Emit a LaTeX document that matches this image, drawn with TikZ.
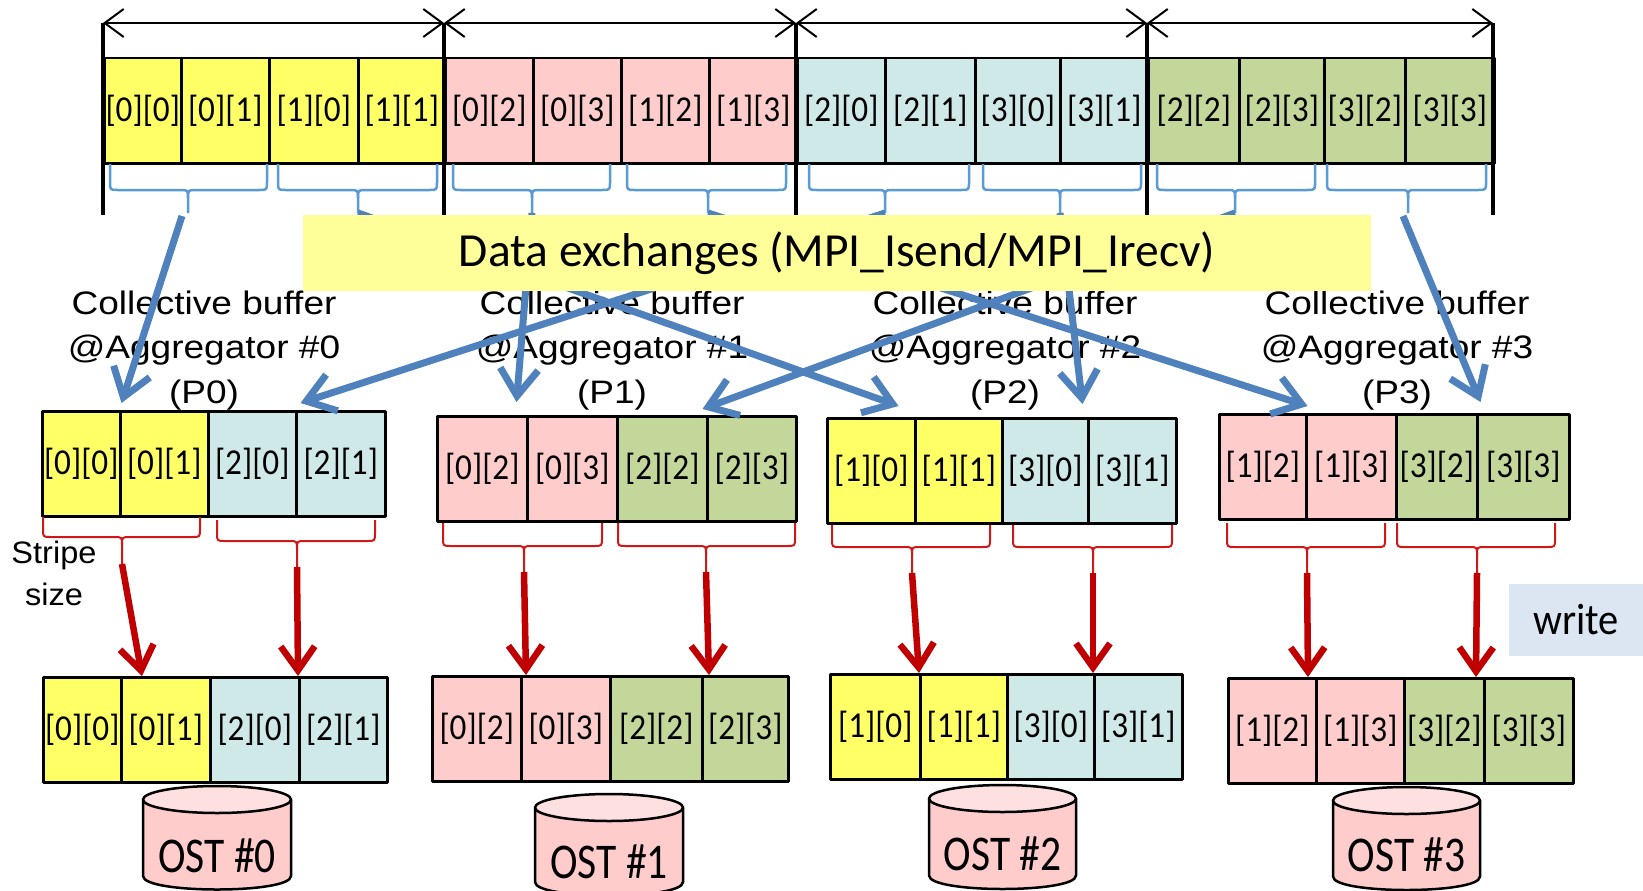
\documentclass[tikz,border=0pt]{standalone}
\usepackage{fontspec}
\usetikzlibrary{arrows.meta}

\newfontfamily\calfont{Carlito}
\newfontfamily\cellfont[FakeStretch=0.91]{Carlito}
\newfontfamily\ostfont[FakeStretch=0.83]{Carlito}
\newfontfamily\writefont[FakeStretch=0.92]{Carlito}
\newfontfamily\labfont[FakeStretch=1.14]{Liberation Sans}
\newfontfamily\stripefont[FakeStretch=1.05]{Liberation Sans}

\definecolor{cY}{HTML}{FFFF66}
\definecolor{cP}{HTML}{FFCCCC}
\definecolor{cC}{HTML}{CFE8E8}
\definecolor{cG}{HTML}{C4D79B}
\definecolor{xchgbg}{HTML}{FFFF99}
\definecolor{writebg}{HTML}{DCE6F2}
\definecolor{flowblue}{HTML}{4F81BD}
\definecolor{braceblue}{HTML}{5B9BD5}
\definecolor{writered}{HTML}{C00000}
\definecolor{bracered}{HTML}{D01818}
\definecolor{drumtop}{HTML}{FFE0E0}

% curly brace: name, style, left x, right x, centre x, top y, bar y, tip y
\newcommand\curlybrace[8]{%
  \draw[#2] (#3,#6) -- (#3,#7-8) .. controls (#3,#7) .. (#3+8,#7) -- (#5-8,#7)
        .. controls (#5,#7) .. (#5,#7+8) -- (#5,#8);
  \draw[#2] (#4,#6) -- (#4,#7-8) .. controls (#4,#7) .. (#4-8,#7) -- (#5+8,#7)
        .. controls (#5,#7) .. (#5,#7+8);
  \coordinate (#1) at (#5,#8);
}

% storage drum: name, centre x, x radius, top ellipse y, bottom y, label y, label
\newcommand\ostdrum[7]{%
  \filldraw[drum, fill=cP] (#2-#3,#4) -- (#2-#3,#5)
     .. controls (#2-#3,#5+18) and (#2+#3,#5+18) .. (#2+#3,#5) -- (#2+#3,#4) -- cycle;
  \filldraw[drum, fill=drumtop] (#2,#4) ellipse [x radius=#3, y radius=13.5];
  \node[ostlabel] (#1) at (#2,#6) {#7};
}

\begin{document}
\begin{tikzpicture}[x=1pt, y=-1pt, line join=round,
  cellbox/.style={draw=black, line width=2.5pt, inner sep=0pt, anchor=north west,
    minimum height=105, font=\cellfont\fontsize{36.5}{40}\selectfont},
  dimline/.style={line width=2pt,
    {Straight Barb[length=19pt,width=28pt]}-{Straight Barb[length=19pt,width=28pt]}},
  groupbar/.style={line width=3.5pt},
  braceB/.style={draw=braceblue, line width=2.5pt},
  braceR/.style={draw=bracered, line width=2pt},
  flow/.style={draw=flowblue, line width=7pt, -{Straight Barb[length=27pt,width=38pt]}},
  writeflow/.style={draw=writered, line width=6.5pt, -{Straight Barb[length=24pt,width=34pt]}},
  aggrlabel/.style={inner sep=0pt, anchor=north, align=center,
    font=\labfont\fontsize{32.5}{44.5}\selectfont},
  drum/.style={draw=black, line width=2.5pt},
  ostlabel/.style={inner sep=0pt, font=\ostfont\fontsize{50}{56}\selectfont},
]
\useasboundingbox (0,0) rectangle (1643,891);

% ---- file layout: the 4x4 array in row-major order -------------------
\foreach \n/\xl/\xr/\c/\t in {
  t00/103/180/cY/{[0][0]}, t01/180/268/cY/{[0][1]}, t10/268/357/cY/{[1][0]}, t11/357/444/cY/{[1][1]},
  t02/444/532/cP/{[0][2]}, t03/532/620/cP/{[0][3]}, t12/620/708/cP/{[1][2]}, t13/708/796/cP/{[1][3]},
  t20/796/884/cC/{[2][0]}, t21/884/974/cC/{[2][1]}, t30/974/1059/cC/{[3][0]}, t31/1059/1147/cC/{[3][1]},
  t22/1147/1238/cG/{[2][2]}, t23/1238/1323/cG/{[2][3]}, t32/1323/1404/cG/{[3][2]}, t33/1404/1493/cG/{[3][3]}}
  {\node[cellbox, fill=\c, minimum width=\xr-\xl] (\n) at (\xl,57) {\t};}

% process extents with dimension arrows
\foreach \i/\x in {0/103, 1/444, 2/796, 3/1147, 4/1493} {
  \coordinate (g\i) at (\x,23);
  \coordinate (gb\i) at (\x,215);
}
\foreach \i in {0,...,4} \draw[groupbar] (g\i) -- (gb\i);
\draw[dimline] (g0) -- (g1);
\draw[dimline] (g1) -- (g2);
\draw[dimline] (g2) -- (g3);
\draw[dimline] (g3) -- (g4);

% blue braces under pairs of blocks
\foreach \i/\xl/\xr/\xc in {0/110/267/188, 1/278/437/358, 2/453/610/532, 3/627/786/708,
                            4/809/969/885, 5/983/1141/1060, 6/1157/1315/1235, 7/1327/1486/1408}
  {\curlybrace{bt\i}{braceB}{\xl}{\xr}{\xc}{164}{190}{213}}

% ---- aggregator labels ------------------------------------------------
\node[aggrlabel] (lab0) at (204,290.5)  {Collective buffer\\@Aggregator \#0\\(P0)};
\node[aggrlabel] (lab1) at (612,290.5)  {Collective buffer\\@Aggregator \#1\\(P1)};
\node[aggrlabel] (lab2) at (1005,290.5) {Collective buffer\\@Aggregator \#2\\(P2)};
\node[aggrlabel] (lab3) at (1397,290.5) {Collective buffer\\@Aggregator \#3\\(P3)};

% ---- collective buffers -----------------------------------------------
\foreach \n/\xl/\xr/\yt/\c/\t in {
  m0a/41/119/410/cY/{[0][0]}, m0b/119/207/410/cY/{[0][1]}, m0c/207/295/410/cC/{[2][0]}, m0d/295/384/410/cC/{[2][1]},
  m1a/436/526/415/cP/{[0][2]}, m1b/526/616/415/cP/{[0][3]}, m1c/616/706/415/cG/{[2][2]}, m1d/706/795/415/cG/{[2][3]},
  m2a/826/914/417/cY/{[1][0]}, m2b/914/1001/417/cY/{[1][1]}, m2c/1001/1087/417/cC/{[3][0]}, m2d/1087/1175/417/cC/{[3][1]},
  m3a/1218/1305/413/cP/{[1][2]}, m3b/1305/1395/413/cP/{[1][3]}, m3c/1395/1476/413/cG/{[3][2]}, m3d/1476/1568/413/cG/{[3][3]}}
  {\node[cellbox, fill=\c, minimum width=\xr-\xl] (\n) at (\xl,\yt) {\t};}

% ---- data exchanges ---------------------------------------------------
\coordinate (sA0) at (182,216);
\coordinate (sA7) at (1403,216);
\draw[flow] (sA0) -- ([yshift=7pt]m0a.north east);
\draw[flow] (bt1) -- ([xshift=-18pt,yshift=11pt]m2a.north east);
\draw[flow] (bt2) -- ([xshift=-12pt,yshift=13pt]m1a.north east);
\draw[flow] (bt3) -- ([yshift=7pt]m3a.north east);
\draw[flow] (bt4) -- ([xshift=3pt,yshift=7pt]m0c.north east);
\draw[flow] (bt5) -- ([xshift=-7pt,yshift=13pt]m2c.north east);
\draw[flow] (bt6) -- ([xshift=-6pt,yshift=6pt]m1c.north east);
\draw[flow] (sA7) -- ([xshift=2pt,yshift=11pt]m3c.north east);

\node[fill=xchgbg, minimum width=1068, minimum height=76, inner sep=0pt,
      font=\calfont\fontsize{47.5}{52}\selectfont] (xchg) at (837,253)
      {Data exchanges (MPI\_Isend/MPI\_Irecv)};

% ---- stripes written to the OSTs --------------------------------------
\foreach \n/\xl/\xr/\yt/\c/\t in {
  b0a/42/120/676/cY/{[0][0]}, b0b/120/209/676/cY/{[0][1]}, b0c/209/298/676/cC/{[2][0]}, b0d/298/386/676/cC/{[2][1]},
  b1a/431/520/675/cP/{[0][2]}, b1b/520/609/675/cP/{[0][3]}, b1c/609/701/675/cG/{[2][2]}, b1d/701/787/675/cG/{[2][3]},
  b2a/829/919/673/cY/{[1][0]}, b2b/919/1006/673/cY/{[1][1]}, b2c/1006/1093/673/cC/{[3][0]}, b2d/1093/1181/673/cC/{[3][1]},
  b3a/1227/1315/677/cP/{[1][2]}, b3b/1315/1403/677/cP/{[1][3]}, b3c/1403/1483/677/cG/{[3][2]}, b3d/1483/1572/677/cG/{[3][3]}}
  {\node[cellbox, fill=\c, minimum width=\xr-\xl] (\n) at (\xl,\yt) {\t};}

% red braces: one stripe each
\foreach \n/\xl/\xr/\xc/\yt/\yh/\yp in {
  r0a/43/200/122/517/537/564,    r0b/217/375/297/520/541/567,
  r1a/443/602/524/523/546/572,   r1b/618/795/706/523/546/572,
  r2a/832/990/912/525/547/573,   r2b/1013/1172/1093/525/547/573,
  r3a/1227/1385/1307/523/547/573, r3b/1397/1555/1477/523/547/573}
  {\curlybrace{\n}{braceR}{\xl}{\xr}{\xc}{\yt}{\yh}{\yp}}

\draw[writeflow] (r0a) -- ([xshift=22pt]b0b.north west);
\draw[writeflow] (r0b) -- (b0d.north west);
\draw[writeflow] (r1a) -- ([xshift=6pt]b1b.north west);
\draw[writeflow] (r1b) -- ([xshift=8pt]b1d.north west);
\draw[writeflow] (r2a) -- (b2b.north west);
\draw[writeflow] (r2b) -- (b2d.north west);
\draw[writeflow] (r3a) -- ([xshift=-7pt]b3b.north west);
\draw[writeflow] (r3b) -- ([xshift=-7pt]b3d.north west);

% ---- object storage targets -------------------------------------------
\ostdrum{ost0}{217}{74}{799.5}{876}{856}{OST \#0}
\ostdrum{ost1}{609}{74}{807.5}{882}{862}{OST \#1}
\ostdrum{ost2}{1002.5}{73.5}{798.5}{875.5}{854}{OST \#2}
\ostdrum{ost3}{1406.5}{73.5}{800.5}{876.5}{855}{OST \#3}

% ---- side notes --------------------------------------------------------
\node[inner sep=0pt, anchor=north, align=center,
      font=\stripefont\fontsize{31}{42}\selectfont] (stripe) at (54,541) {Stripe\\size};
\node[fill=writebg, minimum width=134, minimum height=72, inner sep=0pt,
      font=\writefont\fontsize{44}{50}\selectfont] (wr) at (1576,620) {write};
\end{tikzpicture}
\end{document}
